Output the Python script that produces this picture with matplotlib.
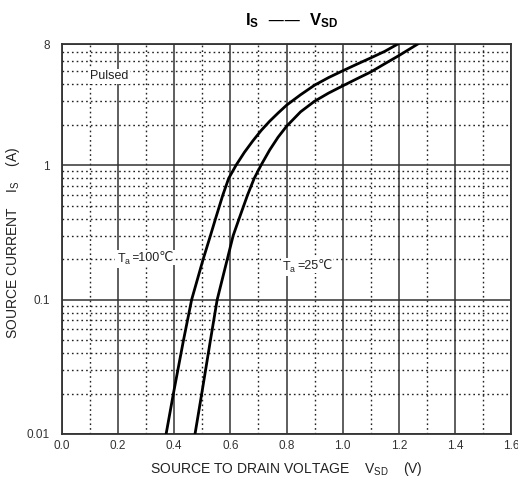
import numpy as np
import matplotlib.pyplot as plt
from matplotlib.ticker import FixedLocator, NullFormatter

plt.rcParams['font.family'] = ['Liberation Sans', 'DejaVu Sans']
plt.rcParams['mathtext.default'] = 'regular'

v_100c = [0.371, 0.397, 0.433, 0.462, 0.503, 0.529, 0.547, 0.573, 0.594, 0.62, 0.65, 0.68,
          0.71, 0.74, 0.77, 0.80, 0.85, 0.90, 0.95, 1.0, 1.05, 1.10, 1.15, 1.197]
i_100c = [0.01, 0.02, 0.05, 0.1, 0.2, 0.3, 0.4, 0.6, 0.8, 1.0, 1.25, 1.52,
          1.82, 2.13, 2.45, 2.8, 3.35, 3.95, 4.5, 5.05, 5.65, 6.3, 7.05, 8]
v_25c = [0.474, 0.498, 0.529, 0.553, 0.589, 0.61, 0.631, 0.661, 0.685, 0.709, 0.74, 0.77,
         0.80, 0.85, 0.90, 0.95, 1.0, 1.05, 1.1, 1.15, 1.2, 1.268]
i_25c = [0.01, 0.02, 0.05, 0.1, 0.2, 0.3, 0.4, 0.6, 0.8, 1.0, 1.3, 1.62,
         1.95, 2.5, 3.0, 3.45, 3.9, 4.4, 4.95, 5.7, 6.55, 8]

x_major = np.arange(0, 1.61, 0.2)
x_minor = np.arange(0.1, 1.6, 0.2)
y_major = [0.01, 0.1, 1, 8]
y_minor = [k * d for d in (0.01, 0.1, 1) for k in range(2, 10) if k * d < 8]

fig = plt.figure(figsize=(5.18, 4.82), dpi=100)
ax = fig.add_axes([62 / 518, 1 - 434 / 482, 449 / 518, 390 / 482])

ax.set_yscale('log')
ax.set_xlim(0, 1.6)
ax.set_ylim(0.01, 8)

ax.xaxis.set_major_locator(FixedLocator(x_major))
ax.xaxis.set_minor_locator(FixedLocator(x_minor))
ax.yaxis.set_major_locator(FixedLocator(y_major))
ax.yaxis.set_minor_locator(FixedLocator(y_minor))
ax.set_xticklabels([f'{v:.1f}' for v in x_major])
ax.set_yticklabels(['0.01', '0.1', '1', '8'])
ax.yaxis.set_minor_formatter(NullFormatter())
ax.tick_params(which='both', length=0, labelsize=8.5, colors='#333333')
ax.tick_params(axis='y', pad=9)
ax.tick_params(axis='x', pad=4)

ax.grid(which='major', color='#333333', lw=1.1, ls='-')
ax.grid(which='minor', color='#222222', lw=1.0, ls=(0, (1.2, 2.2)))
for s in ax.spines.values():
    s.set_color('#333333')
    s.set_linewidth(1.3)

ax.plot(v_100c, i_100c, color='black', lw=2, zorder=5)
ax.plot(v_25c, i_25c, color='black', lw=2, zorder=5)

box = dict(facecolor='white', edgecolor='none', pad=1)
ax.text(0.1, 4.6, 'Pulsed', fontsize=9, color='#222222', va='center', bbox=box)


def temp_label(x, y, rest):
    t = ax.text(x, y, r'T$_{a}$', fontsize=9, color='#222222', va='center',
                bbox=box, zorder=4)
    ax.annotate(rest, xy=(1, 1), xycoords=t, va='top', ha='left', fontsize=9,
                color='#222222', bbox=box, zorder=3)


temp_label(0.195, 0.2, '=100℃')
temp_label(0.785, 0.175, '=25℃')

fig.text(0.563, 0.958, r'I$_{S}$  ——  V$_{SD}$', fontsize=12, fontweight='bold',
         ha='center', va='center')
ax.set_xlabel(r'SOURCE TO DRAIN VOLTAGE    V$_{SD}$    (V)', fontsize=10, color='#222222')
ax.set_ylabel(r'SOURCE CURRENT    I$_{S}$    (A)', fontsize=10, color='#222222')
ax.xaxis.set_label_coords(0.5, -0.067)
ax.yaxis.set_label_coords(-0.089, 0.49)

fig.savefig('out.png', dpi=100)
